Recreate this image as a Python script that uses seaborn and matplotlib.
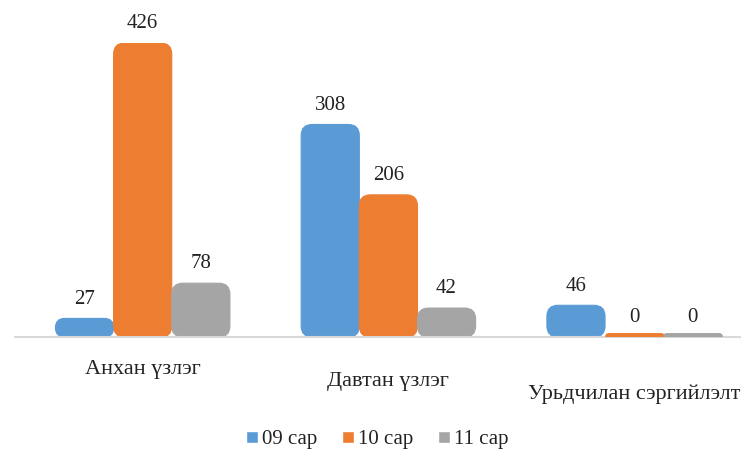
import numpy as np
import pandas as pd
import seaborn as sns
import matplotlib.pyplot as plt
from matplotlib.patches import FancyBboxPatch
from matplotlib import transforms

# Chart data
categories = ["Анхан үзлэг", "Давтан үзлэг", "Урьдчилан сэргийлэлт"]
months = ["09 сар", "10 сар", "11 сар"]
vals_09 = [27, 308, 46]
vals_10 = [426, 206, 0]
vals_11 = [78, 42, 0]

colors = ["#5B9BD5", "#ED7D31", "#A5A5A5"]

df = pd.DataFrame({
    "category": categories * 3,
    "month": [months[0]] * 3 + [months[1]] * 3 + [months[2]] * 3,
    "value": vals_09 + vals_10 + vals_11,
})

sns.set_style("white")
plt.rcParams["font.family"] = ["Liberation Serif", "DejaVu Serif"]

fig = plt.figure(figsize=(7.45, 4.53), dpi=100)
ax = fig.add_axes([0.02, 0.256, 0.973, 0.649])

sns.barplot(data=df, x="category", y="value", hue="month", palette=colors,
            width=0.71, gap=0.0, saturation=1, ax=ax, legend=True)

ax.set_xlim(-0.52, 2.43)
ax.set_ylim(0, 426)

# px per data unit, to keep the corner rounding circular
x_px = ax.get_window_extent().width / (2.43 + 0.52)
y_px = ax.get_window_extent().height / 426
aspect = x_px / y_px

for cont, col in zip(ax.containers, colors):
    for rect in cont:
        x, y = rect.get_x(), rect.get_y()
        w, h = rect.get_width(), rect.get_height()
        rect.set_visible(False)
        if h > 0:
            r = min(0.045, h / aspect / 2)
            box = FancyBboxPatch((x, y), w, h,
                                 boxstyle=f"round,pad=0,rounding_size={r}",
                                 mutation_aspect=aspect,
                                 facecolor=col, edgecolor=col, lw=0.8)
            ax.add_patch(box)
        else:
            ax.plot([x + 0.01, x + w - 0.01], [1.5, 1.5], color=col, lw=5,
                    solid_capstyle="round", zorder=3)
    ax.bar_label(cont, padding=7, fontsize=15, color="#222222")

for t in ax.texts:
    t.set_clip_on(False)

sns.despine(ax=ax, left=True, top=True, right=True)
ax.spines["bottom"].set_color("#D9D9D9")
ax.spines["bottom"].set_linewidth(1.5)
ax.set_yticks([])
ax.set_xlabel("")
ax.set_ylabel("")
ax.tick_params(axis="x", length=0, pad=24, labelsize=16, colors="#222222")

# small stagger of category labels like the tilted original
for i, lbl in enumerate(ax.get_xticklabels()):
    lbl.set_transform(lbl.get_transform() +
                      transforms.ScaledTranslation(0, -i * 12 / 100 + 0.1, fig.dpi_scale_trans))

handles, labels = ax.get_legend_handles_labels()
ax.legend(handles, labels, loc="center", bbox_to_anchor=(0.5, -0.35),
          ncol=3, frameon=False, fontsize=15, handlelength=0.55, handleheight=0.55,
          handletextpad=0.2, columnspacing=1.2, labelcolor="#222222")

fig.savefig("out.png", dpi=100)
